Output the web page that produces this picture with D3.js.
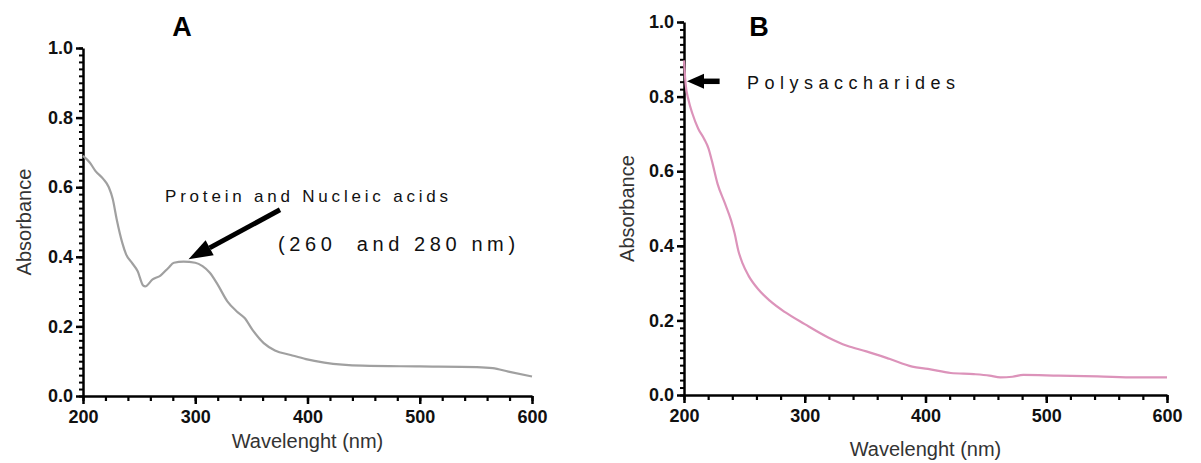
<!DOCTYPE html>
<html><head><meta charset="utf-8">
<script src="https://cdn.jsdelivr.net/npm/d3@7"></script>
<style>
html,body{margin:0;padding:0;background:#fff;}
svg{display:block;font-family:"Liberation Sans",Arial,sans-serif;}
</style></head>
<body>
<svg id="chart" width="1201" height="463"></svg>
<script>
// ---- Data ----
const wavelengthA = [200,206,211,218,223,226.5,230,235,238.4,243.5,248.6,253.7,255.4,262,269,276,281,289.5,300,306.5,313,320,328.6,337,344,351,361,371,385,398.6,415,449,500,551,565,579,600];
const absorbanceA = [0.69,0.671,0.647,0.624,0.60,0.566,0.508,0.44,0.407,0.383,0.359,0.317,0.315,0.335,0.346,0.368,0.383,0.386,0.383,0.373,0.354,0.32,0.272,0.243,0.224,0.19,0.152,0.131,0.118,0.106,0.096,0.087,0.085,0.083,0.08,0.07,0.056];

const wavelengthB = [200,201.3,203.8,207,211.8,216.6,220.4,223,227.8,234,239,242,245,248.6,253.4,261.3,271,283.7,300,319,335,351,370,389,402,421,440,453,462,472,481,510,542.5,574,600];
const absorbanceB = [0.897,0.835,0.79,0.754,0.714,0.687,0.66,0.629,0.566,0.513,0.468,0.432,0.387,0.352,0.32,0.284,0.253,0.222,0.19,0.155,0.132,0.117,0.097,0.076,0.07,0.059,0.056,0.052,0.047,0.049,0.054,0.052,0.05,0.047,0.047];

const xTicks = [200,300,400,500,600];
const yTicks = [0.0,0.2,0.4,0.6,0.8,1.0];
const xMinorStep = 20;
const yMinorStep = 0.02;

const panelLabels = ["A","B"];
const xTitle = "Wavelenght (nm)";
const yTitle = "Absorbance";
const annotA1 = "Protein and Nucleic acids";
const annotA2 = "(260  and 280 nm)";
const annotB = "Polysaccharides";

// ---- Drawing ----
const svg = d3.select("#chart");

const panels = [
  {label:panelLabels[0], xs:wavelengthA, ys:absorbanceA, color:"#a0a0a0",
   xr:[83,532], yr:[396,48], labelPos:[182,36], xTitleY:448, yTitleX:31},
  {label:panelLabels[1], xs:wavelengthB, ys:absorbanceB, color:"#dc93ba",
   xr:[684,1167], yr:[395,22], labelPos:[759,36], xTitleY:456, yTitleX:634}
];

const minorX = d3.range(200, 600.001, xMinorStep);
const minorY = d3.range(0, 1.0001, yMinorStep).map(v=>+v.toFixed(2));

panels.forEach((p,i)=>{
  const x = d3.scaleLinear().domain([200,600]).range(p.xr);
  const y = d3.scaleLinear().domain([0,1]).range(p.yr);
  p.x = x; p.y = y;
  const g = svg.append("g");

  // minor ticks
  g.append("g").attr("transform",`translate(0,${p.yr[0]})`)
    .call(d3.axisBottom(x).tickValues(minorX).tickSize(5).tickFormat(""))
    .call(s=>s.selectAll("line").attr("stroke","#000").attr("stroke-width",2.2))
    .call(s=>s.select(".domain").remove());
  g.append("g").attr("transform",`translate(${p.xr[0]},0)`)
    .call(d3.axisLeft(y).tickValues(minorY).tickSize(4).tickFormat(""))
    .call(s=>s.selectAll("line").attr("stroke","#000").attr("stroke-width",2))
    .call(s=>s.select(".domain").remove());

  // major axes
  const xa = g.append("g").attr("transform",`translate(0,${p.yr[0]})`)
    .call(d3.axisBottom(x).tickValues(xTicks).tickSize(8).tickSizeOuter(0).tickPadding(6).tickFormat(d3.format("d")));
  const ya = g.append("g").attr("transform",`translate(${p.xr[0]},0)`)
    .call(d3.axisLeft(y).tickValues(yTicks).tickSize(7).tickSizeOuter(0).tickPadding(3).tickFormat(d3.format(".1f")));
  [xa,ya].forEach(a=>{
    a.select(".domain").attr("stroke","#000").attr("stroke-width",2.5);
    a.selectAll(".tick line").attr("stroke","#000").attr("stroke-width",2.5);
    a.selectAll(".tick text").attr("fill","#111").attr("font-size",18).attr("font-weight","bold")
      .attr("font-family","'Liberation Sans',Arial,sans-serif");
  });

  // curve
  const line = d3.line().x(d=>x(d[0])).y(d=>y(d[1])).curve(d3.curveMonotoneX);
  g.append("path").datum(p.xs.map((v,k)=>[v,p.ys[k]]))
    .attr("d",line).attr("fill","none").attr("stroke",p.color).attr("stroke-width",2.2);

  // titles
  g.append("text").attr("x",(p.xr[0]+p.xr[1])/2).attr("y",p.xTitleY)
    .attr("text-anchor","middle").attr("font-size",20).attr("fill","#333").text(xTitle);
  g.append("text").attr("transform",`translate(${p.yTitleX},${(p.yr[0]+p.yr[1])/2}) rotate(-90)`)
    .attr("text-anchor","middle").attr("font-size",20).attr("fill","#333").text(yTitle);
  g.append("text").attr("x",p.labelPos[0]).attr("y",p.labelPos[1])
    .attr("text-anchor","middle").attr("font-size",27).attr("font-weight","bold").attr("fill","#000").text(p.label);
});

// annotations
function arrow(g, x1,y1,x2,y2, headLen, headW, w){
  const ang = Math.atan2(y2-y1,x2-x1);
  const bx = x2 - headLen*Math.cos(ang), by = y2 - headLen*Math.sin(ang);
  g.append("line").attr("x1",x1).attr("y1",y1).attr("x2",bx).attr("y2",by)
    .attr("stroke","#000").attr("stroke-width",w);
  const px = -Math.sin(ang)*headW/2, py = Math.cos(ang)*headW/2;
  g.append("path").attr("d",`M${x2},${y2}L${bx+px},${by+py}L${bx-px},${by-py}Z`).attr("fill","#000");
}
const pA = panels[0], pB = panels[1];
const ga = svg.append("g");
arrow(ga, pA.x(375.5), pA.y(0.535), pA.x(294), pA.y(0.393), 24, 17, 5);
ga.append("text").attr("x",165).attr("y",202).attr("font-size",17).attr("letter-spacing","3.8px")
  .attr("fill","#111").text(annotA1);
ga.append("text").attr("x",278).attr("y",251).attr("font-size",20).attr("letter-spacing","4.6px")
  .style("white-space","pre").attr("fill","#111").text(annotA2);
const gb = svg.append("g");
arrow(gb, pB.x(229.5), pB.y(0.841), pB.x(202.5), pB.y(0.841), 17, 15, 5.5);
gb.append("text").attr("x",747).attr("y",89).attr("font-size",18).attr("letter-spacing","5.5px")
  .attr("fill","#111").text(annotB);
</script>
</body></html>
